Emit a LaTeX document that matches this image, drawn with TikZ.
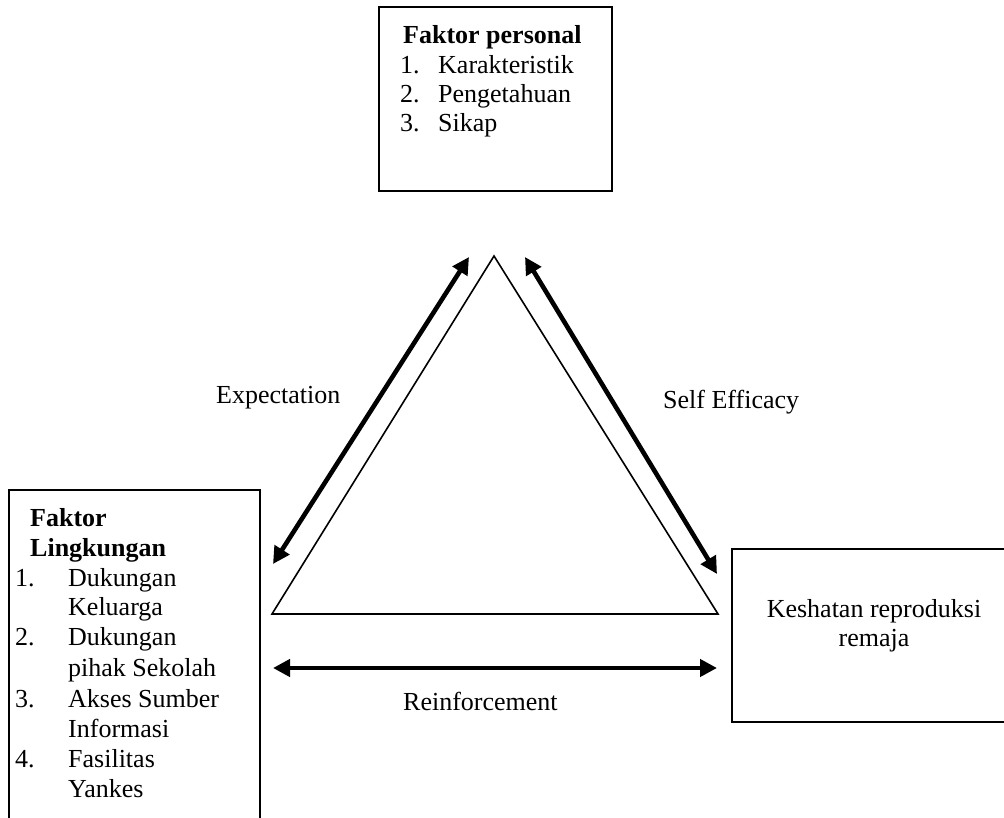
\documentclass[tikz,border=0pt]{standalone}
\usepackage{fontspec}
\setmainfont{Liberation Serif}
\usetikzlibrary{arrows.meta}
\tikzset{
  box/.style={draw, line width=1.6pt, inner sep=0pt},
  txt/.style={anchor=base west, inner sep=0pt, font=\fontsize{26}{30}\selectfont},
  ctxt/.style={anchor=base, inner sep=0pt, font=\fontsize{26}{30}\selectfont},
  btxt/.style={anchor=base west, inner sep=0pt, font=\fontsize{26}{30}\selectfont\bfseries},
  tri/.style={line width=1.6pt, line join=miter},
  dbl/.style={line width=4.6pt, {Triangle[length=17pt,width=17pt]}-{Triangle[length=17pt,width=17pt]}}
}
\begin{document}
\begin{tikzpicture}[x=1pt,y=-1pt]
\useasboundingbox (0,0) rectangle (1004,818);
\clip (0,0) rectangle (1004,818);
% boxes
\node[box, minimum width=233pt, minimum height=184pt] (personal) at (495.5,99) {};
\node[box, minimum width=251pt, minimum height=380pt] (lingkungan) at (134.5,680) {};
\node[box, minimum width=310pt, minimum height=173pt] (kesehatan) at (887,635.5) {};
% top box text
\node[btxt] (p0) at (403,44) {Faktor personal};
\node[txt] (p1n) at (400,74) {1.};
\node[txt] (p1) at (438,74) {Karakteristik};
\node[txt] (p2n) at (400,103) {2.};
\node[txt] (p2) at (438,103) {Pengetahuan};
\node[txt] (p3n) at (400,132) {3.};
\node[txt] (p3) at (438,132) {Sikap};
% left box text
\node[btxt] (l0a) at (30,526) {Faktor};
\node[btxt] (l0b) at (30,556) {Lingkungan};
\node[txt] (l1n) at (15,586) {1.};
\node[txt] (l1a) at (68,586) {Dukungan};
\node[txt] (l1b) at (68,615) {Keluarga};
\node[txt] (l2n) at (15,645) {2.};
\node[txt] (l2a) at (68,645) {Dukungan};
\node[txt] (l2b) at (68,676) {pihak Sekolah};
\node[txt] (l3n) at (15,707) {3.};
\node[txt] (l3a) at (68,707) {Akses Sumber};
\node[txt] (l3b) at (68,737) {Informasi};
\node[txt] (l4n) at (15,767) {4.};
\node[txt] (l4a) at (68,767) {Fasilitas};
\node[txt] (l4b) at (68,797) {Yankes};
% right box text
\node[ctxt] (k1) at (874,617) {Keshatan reproduksi};
\node[ctxt] (k2) at (874,646) {remaja};
% triangle
\coordinate (ta) at (494,256);
\coordinate (tl) at (272,614);
\coordinate (tr) at (718,614);
\draw[tri] (ta) -- (tl) -- (tr) -- cycle;
% arrows
\coordinate (e1) at (469,257);
\coordinate (e2) at (273,564);
\coordinate (s1) at (525,257);
\coordinate (s2) at (717,574);
\coordinate (r1) at (273,668);
\coordinate (r2) at (717,668);
\draw[dbl] (e1) -- (e2);
\draw[dbl] (s1) -- (s2);
\draw[dbl] (r1) -- (r2);
% labels
\node[txt] (lexp) at (216,403) {Expectation};
\node[txt] (lse) at (663,408) {Self Efficacy};
\node[txt] (lre) at (403,710) {Reinforcement};
\end{tikzpicture}
\end{document}
